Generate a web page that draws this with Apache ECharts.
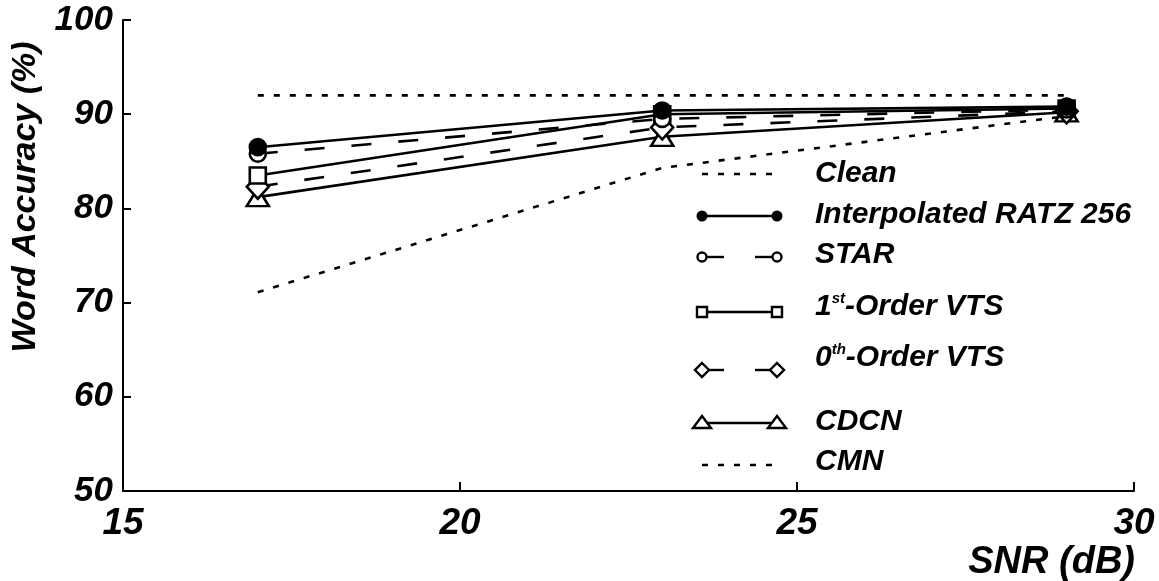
<!DOCTYPE html>
<html>
<head>
<meta charset="utf-8">
<script src="https://cdn.jsdelivr.net/npm/echarts@6/dist/echarts.min.js"></script>
<style>
  html, body { margin: 0; padding: 0; background: #fff; }
  #chart { width: 1159px; height: 581px; }
</style>
</head>
<body>
<div id="chart"></div>
<script>
// SNR test points (dB)
var snr = [17, 23, 29];
var cleanSnr = [17, 29];

// Word accuracy (%) per compensation method
var clean = [92.0, 92.0];
var ratz256 = [86.5, 90.4, 90.8];
var star = [85.8, 89.5, 90.5];
var vts1 = [83.5, 90.0, 90.6];
var vts0 = [82.3, 88.6, 90.3];
var cdcn = [81.2, 87.6, 90.2];
var cmn = [71.1, 84.3, 89.8];

var xTicks = [15, 20, 25, 30];
var yTicks = [50, 60, 70, 80, 90, 100];

var FONT = '"Liberation Sans", Arial, sans-serif';
var INK = '#000';

function pairs(xs, ys) {
  return xs.map(function (x, i) { return [x, ys[i]]; });
}

var chart = echarts.init(document.getElementById('chart'), null, { renderer: 'canvas' });

var lineW = 2.6;
var dashLong = [20, 27];
var dots = [6, 10];

function lineSeries(name, data, dash, symbol, size, filled, z) {
  return {
    name: name,
    type: 'line',
    data: data,
    symbol: symbol,
    symbolSize: size,
    showSymbol: symbol !== 'none',
    z: z,
    animation: false,
    lineStyle: { color: INK, width: lineW, type: dash },
    itemStyle: { color: filled ? INK : '#fff', borderColor: INK, borderWidth: 2.6 }
  };
}

// Legend drawn as graphic rows: sample line + end markers + label
var legendRows = [
  { y: 174, dash: dots, marker: null, text: [{ t: 'Clean' }] },
  { y: 216, dash: null, marker: 'dot', text: [{ t: 'Interpolated RATZ 256' }] },
  { y: 257, dash: 'gap', marker: 'ring', text: [{ t: 'STAR' }] },
  { y: 312, dash: null, marker: 'square', text: [{ t: '1' }, { t: 'st', sup: true }, { t: '-Order VTS' }] },
  { y: 370, dash: 'gap', marker: 'diamond', text: [{ t: '0' }, { t: 'th', sup: true }, { t: '-Order VTS' }] },
  { y: 423, dash: null, marker: 'tri', text: [{ t: 'CDCN' }] },
  { y: 465, dash: dots, marker: null, text: [{ t: 'CMN' }] }
];
var textY = { 174: 174, 216: 215, 257: 255, 312: 307, 370: 358, 423: 422, 465: 462 };

function markerGraphic(kind, cx, cy) {
  var st = { fill: '#fff', stroke: INK, lineWidth: 2.4 };
  if (kind === 'dot') return { type: 'circle', shape: { cx: cx, cy: cy, r: 5.5 }, style: { fill: INK } };
  if (kind === 'ring') return { type: 'circle', shape: { cx: cx, cy: cy, r: 4.5 }, style: st };
  if (kind === 'square') return { type: 'rect', shape: { x: cx - 5, y: cy - 5, width: 10, height: 10 }, style: st };
  if (kind === 'diamond') return { type: 'polygon', shape: { points: [[cx, cy - 7], [cx + 7, cy], [cx, cy + 7], [cx - 7, cy]] }, style: st };
  if (kind === 'tri') return { type: 'polygon', shape: { points: [[cx, cy - 7], [cx + 9, cy + 5], [cx - 9, cy + 5]] }, style: st };
  return null;
}

var graphics = [];
var x0 = 702, x1 = 777;
legendRows.forEach(function (r) {
  if (r.dash === 'gap') {
    graphics.push({ type: 'line', shape: { x1: x0, y1: r.y, x2: x0 + 22, y2: r.y }, style: { stroke: INK, lineWidth: 2.4 } });
    graphics.push({ type: 'line', shape: { x1: x1 - 22, y1: r.y, x2: x1, y2: r.y }, style: { stroke: INK, lineWidth: 2.4 } });
  } else {
    graphics.push({ type: 'line', shape: { x1: x0, y1: r.y, x2: x1, y2: r.y }, style: { stroke: INK, lineWidth: 2.4, lineDash: r.dash || null } });
  }
  if (r.marker) {
    graphics.push(markerGraphic(r.marker, x0, r.y));
    graphics.push(markerGraphic(r.marker, x1, r.y));
  }
  var rich = { m: { fontSize: 30, fontWeight: 'bold', fontStyle: 'italic', fontFamily: FONT, fill: INK },
               s: { fontSize: 15, fontWeight: 'bold', fontStyle: 'italic', fontFamily: FONT, fill: INK, verticalAlign: 'top', padding: [0, 0, 16, 0] } };
  var str = r.text.map(function (p) { return '{' + (p.sup ? 's' : 'm') + '|' + p.t + '}'; }).join('');
  graphics.push({ type: 'text', x: 815, y: textY[r.y], style: { text: str, rich: rich, textVerticalAlign: 'middle', verticalAlign: 'middle' } });
});

// Axis titles
graphics.push({ type: 'text', x: 26, y: 197, rotation: Math.PI / 2,
  style: { text: 'Word Accuracy (%)', font: 'italic bold 34px ' + FONT, fill: INK, align: 'center', verticalAlign: 'middle' } });
graphics.push({ type: 'text', x: 1135, y: 563,
  style: { text: 'SNR (dB)', font: 'italic bold 38px ' + FONT, fill: INK, align: 'right', verticalAlign: 'middle' } });

var option = {
  backgroundColor: '#fff',
  animation: false,
  grid: { left: 123, right: 25, top: 20, bottom: 90, containLabel: false },
  xAxis: {
    type: 'value', min: xTicks[0], max: xTicks[xTicks.length - 1], interval: 5,
    axisLine: { show: true, onZero: false, lineStyle: { color: INK, width: 2 } },
    axisTick: { show: true, inside: true, length: 9, lineStyle: { color: INK, width: 2 } },
    axisLabel: { color: INK, fontSize: 37, fontWeight: 'bold', fontStyle: 'italic', fontFamily: FONT, margin: 14 },
    splitLine: { show: false }
  },
  yAxis: {
    type: 'value', min: yTicks[0], max: yTicks[yTicks.length - 1], interval: 10,
    axisLine: { show: true, onZero: false, lineStyle: { color: INK, width: 2 } },
    axisTick: { show: true, inside: true, length: 8, lineStyle: { color: INK, width: 2 } },
    axisLabel: { color: INK, fontSize: 35, fontWeight: 'bold', fontStyle: 'italic', fontFamily: FONT, margin: 10 },
    splitLine: { show: false }
  },
  series: [
    lineSeries('Clean', pairs(cleanSnr, clean), dots, 'none', 0, false, 2),
    lineSeries('CMN', pairs(snr, cmn), dots, 'none', 0, false, 2),
    lineSeries('CDCN', pairs(snr, cdcn), 'solid', 'triangle', [22, 18], false, 3),
    lineSeries('0th-Order VTS', pairs(snr, vts0), dashLong, 'diamond', [22, 24], false, 4),
    lineSeries('1st-Order VTS', pairs(snr, vts1), 'solid', 'rect', [16, 16], false, 5),
    lineSeries('STAR', pairs(snr, star), dashLong, 'circle', [16, 16], false, 6),
    lineSeries('Interpolated RATZ 256', pairs(snr, ratz256), 'solid', 'circle', [16, 16], true, 7)
  ],
  graphic: graphics
};

chart.setOption(option);
</script>
</body>
</html>
